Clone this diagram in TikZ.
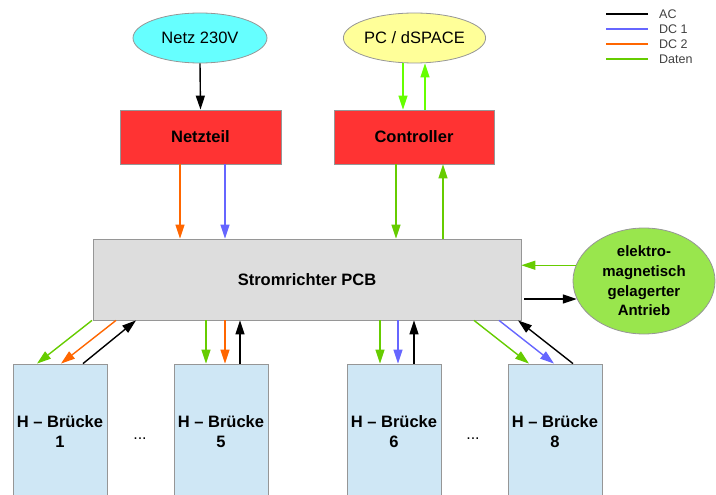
\documentclass[tikz,border=0pt]{standalone}
\usepackage{fontspec}
\setmainfont{Liberation Sans}
\usetikzlibrary{arrows.meta,shapes.geometric}

\definecolor{acfarbe}{RGB}{0,0,0}
\definecolor{dceins}{RGB}{102,102,255}
\definecolor{dczwei}{RGB}{255,102,0}
\definecolor{datgruen}{RGB}{102,204,0}
\definecolor{dathell}{RGB}{102,255,0}
\definecolor{netzcyan}{RGB}{102,255,255}
\definecolor{pcgelb}{RGB}{255,255,153}
\definecolor{blockrot}{RGB}{255,51,51}
\definecolor{pcbgrau}{RGB}{221,221,221}
\definecolor{hbblau}{RGB}{207,231,245}
\definecolor{antgruen}{RGB}{153,230,77}
\definecolor{randgrau}{RGB}{150,150,150}

\tikzset{
  pfeil/.style={line width=1.4pt, -{Triangle[length=14pt,width=9pt]}},
  ac/.style={pfeil, draw=acfarbe},
  dcone/.style={pfeil, draw=dceins},
  dctwo/.style={pfeil, draw=dczwei},
  dat/.style={pfeil, draw=datgruen},
  datl/.style={pfeil, draw=dathell},
  block/.style={draw=randgrau, line width=0.8pt, inner sep=0pt,
    font=\fontsize{16.5}{20}\selectfont\bfseries, align=center},
  oval/.style={ellipse, draw=randgrau, line width=0.8pt, inner sep=0pt,
    font=\fontsize{16.5}{20}\selectfont},
  hbruecke/.style={block, fill=hbblau, minimum width=94pt, minimum height=136pt},
  legtext/.style={anchor=west, inner sep=0pt, text=black!75,
    font=\fontsize{12.5}{14}\selectfont},
}

\begin{document}
\begin{tikzpicture}[x=1pt, y=-1pt]
  \useasboundingbox (0,0) rectangle (716,495);

  % ==================== Quellen oben ====================
  \node[oval, fill=netzcyan, minimum width=134pt, minimum height=50pt] (netz) at (200,38) {Netz 230V};
  \node[oval, fill=pcgelb, minimum width=135pt, minimum height=50pt] (pc) at (414.5,38) {PC / dSPACE};

  % ==================== Bloecke ====================
  \node[block, fill=blockrot, minimum width=161pt, minimum height=54pt] (netzteil) at (200.5,137) {Netzteil};
  \node[block, fill=blockrot, minimum width=160pt, minimum height=54pt] (ctrl) at (414,137) {Controller};
  \node[block, fill=pcbgrau, minimum width=428pt, minimum height=81pt] (pcb) at (307,279.5) {Stromrichter PCB};
  \node[oval, fill=antgruen, minimum width=142pt, minimum height=106pt, align=center,
    font=\fontsize{15}{19.7}\selectfont\bfseries] (ant) at (644,281) {elektro-\\magnetisch\\gelagerter\\Antrieb};

  % ==================== H-Bruecken ====================
  \node[hbruecke] (hb1) at (60,432) {H -- Brücke\\1};
  \node[hbruecke] (hb5) at (221,432) {H -- Brücke\\5};
  \node[hbruecke] (hb6) at (394,432) {H -- Brücke\\6};
  \node[hbruecke] (hb8) at (555,432) {H -- Brücke\\8};
  \node[font=\fontsize{16}{20}\selectfont] (dots1) at (140,439) {...};
  \node[font=\fontsize{16}{20}\selectfont] (dots2) at (473,439) {...};

  % ==================== Verbindungen oben ====================
  \draw[ac] (netz.south) -- (netzteil.north);
  \draw[datl] (pc.south -| 403,0) -- (ctrl.north -| 403,0);
  \draw[datl] (ctrl.north -| 425,0) -- (pc.south -| 425,0);
  \draw[dctwo] (netzteil.south -| 180,0) -- (pcb.north -| 180,0);
  \draw[dcone] (netzteil.south -| 225,0) -- (pcb.north -| 225,0);
  \draw[dat] (ctrl.south -| 396,0) -- (pcb.north -| 396,0);
  \draw[dat] (pcb.north -| 443,0) -- (ctrl.south -| 443,0);

  % ==================== Antrieb ====================
  \draw[dat] (ant.167) -- (ant.167 -| pcb.east);
  \draw[ac] ([xshift=3pt]ant.195 -| pcb.east) -- (ant.195);

  % ==================== Verbindungen unten ====================
  \draw[dat] (pcb.south -| 92,0) -- (hb1.north -| 37,0);
  \draw[dctwo] (pcb.south -| 116,0) -- (hb1.north -| 61,0);
  \draw[ac] (hb1.north -| 83,0) -- (pcb.south -| 136,0);

  \draw[dat] (pcb.south -| 206,0) -- (hb5.north -| 206,0);
  \draw[dctwo] (pcb.south -| 225,0) -- (hb5.north -| 225,0);
  \draw[ac] (hb5.north -| 240,0) -- (pcb.south -| 240,0);

  \draw[dat] (pcb.south -| 380,0) -- (hb6.north -| 380,0);
  \draw[dcone] (pcb.south -| 398,0) -- (hb6.north -| 398,0);
  \draw[ac] (hb6.north -| 414,0) -- (pcb.south -| 414,0);

  \draw[dat] (pcb.south -| 474,0) -- (hb8.north -| 529,0);
  \draw[dcone] (pcb.south -| 499,0) -- (hb8.north -| 554,0);
  \draw[ac] (hb8.north -| 573,0) -- (pcb.south -| 518,0);

  % ==================== Legende ====================
  \node[legtext] (lac) at (659,14) {AC};
  \node[legtext] (ldceins) at (659,29) {DC 1};
  \node[legtext] (ldczwei) at (659,44) {DC 2};
  \node[legtext] (ldaten) at (659,59) {Daten};
  \draw[line width=1.4pt, acfarbe] ([xshift=-11pt]lac.west) -- ++(-42,0);
  \draw[line width=1.4pt, dceins] ([xshift=-11pt]ldceins.west) -- ++(-42,0);
  \draw[line width=1.4pt, dczwei] ([xshift=-11pt]ldczwei.west) -- ++(-42,0);
  \draw[line width=1.4pt, datgruen] ([xshift=-11pt]ldaten.west) -- ++(-42,0);
\end{tikzpicture}
\end{document}
